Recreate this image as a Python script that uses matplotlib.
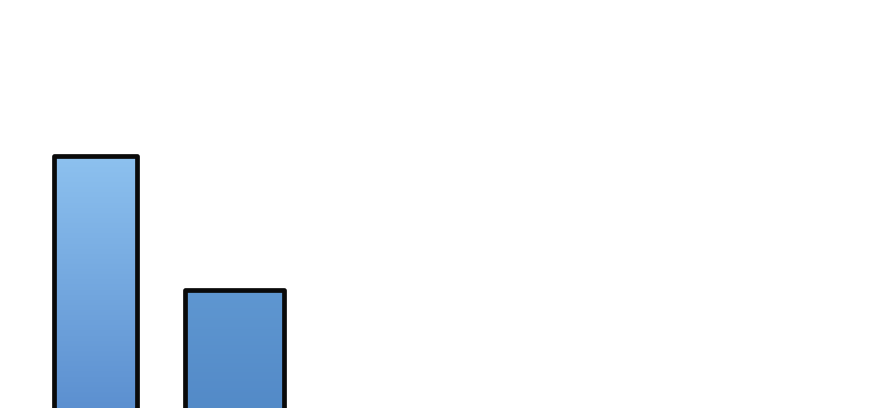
import numpy as np
import matplotlib
matplotlib.use("Agg")
import matplotlib.pyplot as plt
from matplotlib.colors import LinearSegmentedColormap

# data
categories = ["A", "B"]
values = [262, 128]
top_colors = ["#8dc1ef", "#5f97d1"]
bottom_colors = ["#5a8ecf", "#5289c7"]
widths = [0.597, 0.712]

fig = plt.figure(figsize=(8.8, 4.08), dpi=100)
ax = fig.add_axes([0, 0, 1, 1])
ax.set_xlim(-0.687, 5.644)
ax.set_ylim(10, 418)
ax.axis("off")

x = np.arange(len(categories))
bars = ax.bar(x, values, width=widths, facecolor="none", edgecolor="#0a0a0a",
              linewidth=3.4, joinstyle="round", zorder=3)

for b, tc, bc in zip(bars, top_colors, bottom_colors):
    cmap = LinearSegmentedColormap.from_list("g", [bc, tc])
    x0, y0 = b.get_x(), b.get_y()
    w, h = b.get_width(), b.get_height()
    grad = np.linspace(0, 1, 256).reshape(-1, 1)
    im = ax.imshow(grad, cmap=cmap, origin="lower", aspect="auto",
                   extent=[x0, x0 + w, y0, y0 + h], zorder=2)
    im.set_clip_path(b)

ax.set_xlim(-0.687, 5.644)
ax.set_ylim(10, 418)
fig.savefig("out.png", dpi=100)
